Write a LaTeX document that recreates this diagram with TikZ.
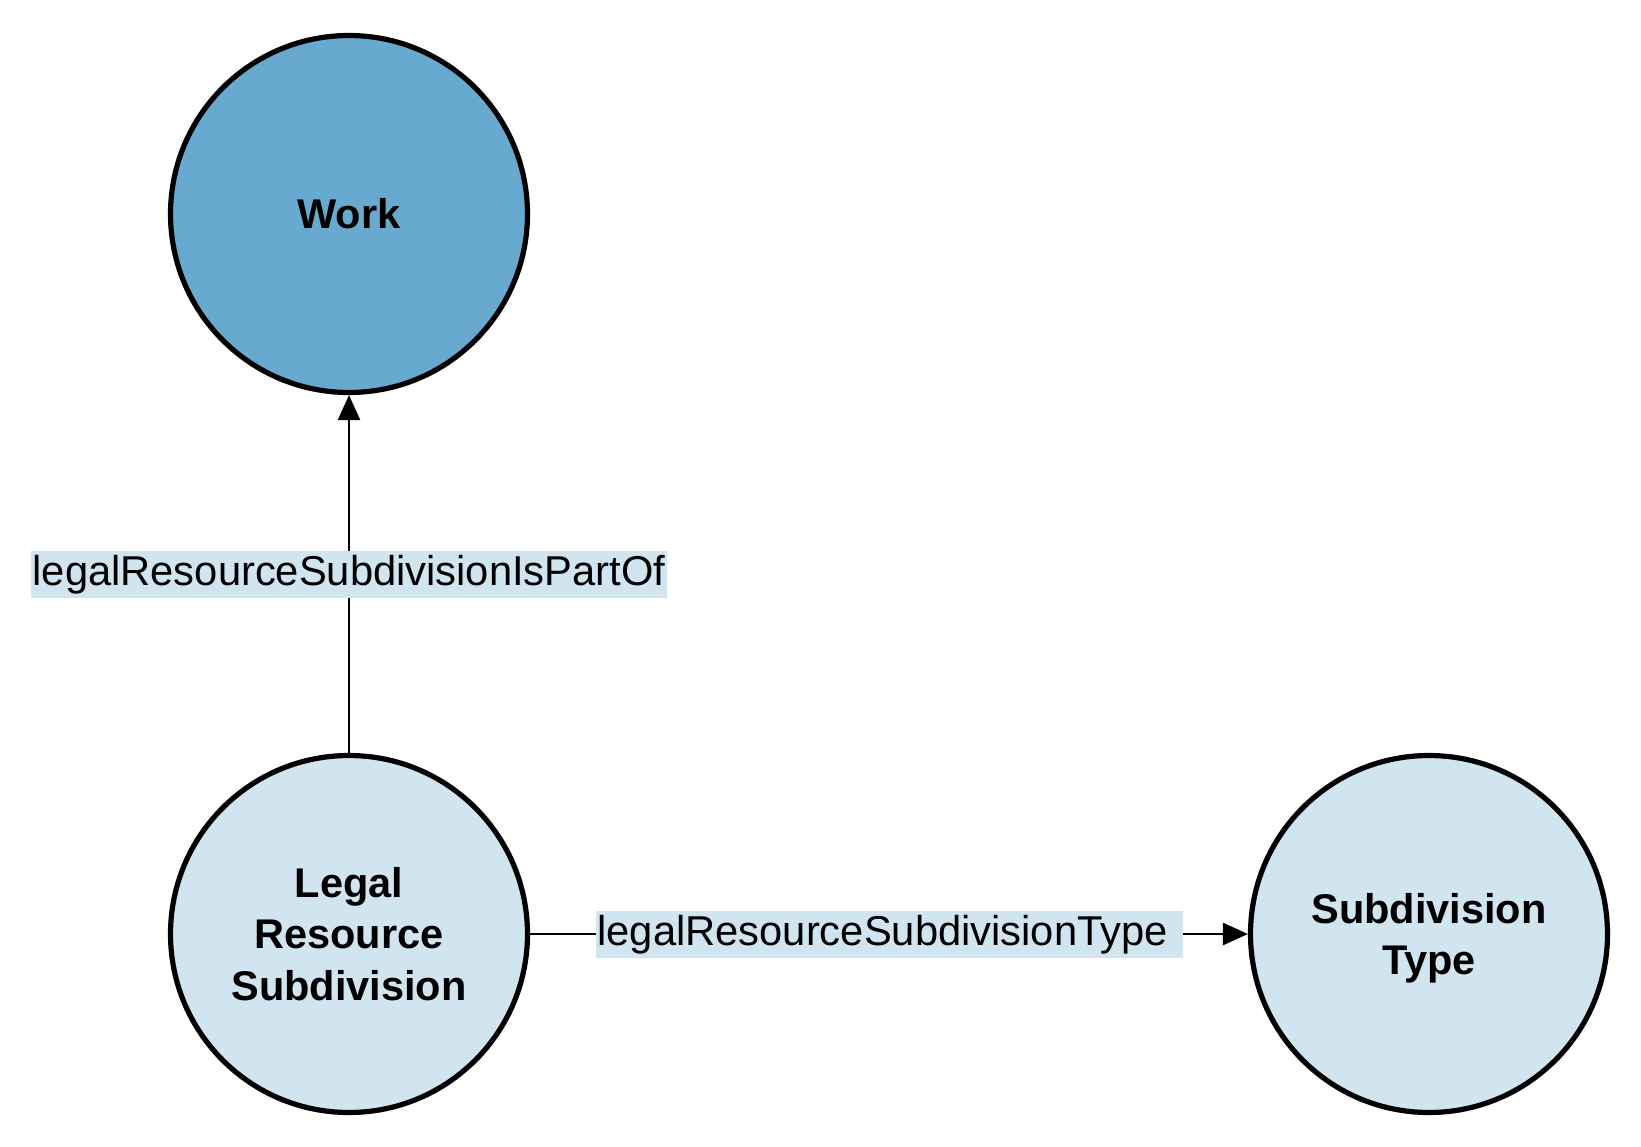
\documentclass[tikz,border=0pt]{standalone}
\usepackage{fontspec}
\setmainfont{Liberation Sans}
\usetikzlibrary{arrows.meta}
\definecolor{darkblue}{HTML}{67A9CF}
\definecolor{lightblue}{HTML}{D1E5F0}
\begin{document}
\begin{tikzpicture}[
  classnode/.style={circle, draw=black, line width=5.2pt, minimum size=357pt, inner sep=0pt,
    font=\bfseries\fontsize{41.5}{51.3}\selectfont, align=center},
  edgelabel/.style={fill=lightblue, font=\fontsize{41.7}{50}\selectfont, inner xsep=2pt,
    inner ysep=3.5pt, text height=31pt, text depth=9pt},
  rel/.style={line width=2.6pt, -{Triangle[length=25pt,width=22pt]}}
]
\useasboundingbox (0pt,0pt) rectangle (1641pt,-1146pt);
\node[classnode, fill=darkblue] (work) at (349pt,-214pt) {Work};
\node[classnode, fill=lightblue] (lrs) at (349pt,-934pt) {Legal\\Resource\\Subdivision};
\node[classnode, fill=lightblue] (st) at (1429pt,-934pt) {\rule{0pt}{39pt}Subdivision\\Type};
\draw[rel] (lrs) -- node[edgelabel] {\makebox[583pt][l]{legalResourceSubdivisionType}} (st);
\draw[rel] (lrs) -- node[edgelabel] {legalResourceSubdivisionIsPartOf} (work);
\end{tikzpicture}
\end{document}
